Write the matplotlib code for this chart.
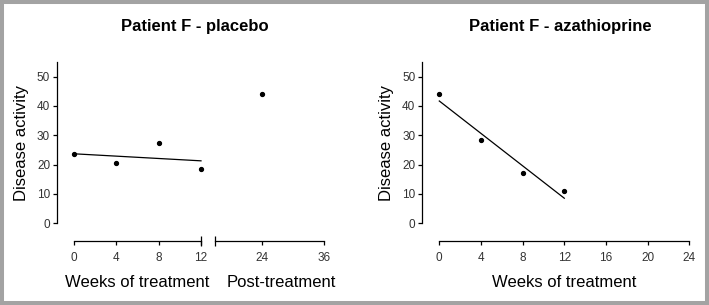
import matplotlib.pyplot as plt
import matplotlib.transforms as mtransforms
from matplotlib.patches import Rectangle
import numpy as np

# data
weeks = [0, 4, 8, 12]
placebo = [23.5, 20.5, 27.5, 18.5]
post_weeks = [24]
post_placebo = [44]
aza = [44, 28.5, 17, 11]

yticks = [0, 10, 20, 30, 40, 50]
left_xticks = [0, 4, 8, 12]
post_xticks = [24, 36]
aza_xticks = [0, 4, 8, 12, 16, 20, 24]

plt.rcParams['font.family'] = ['Liberation Sans', 'DejaVu Sans']

W, H = 709, 305
fig = plt.figure(figsize=(W / 100, H / 100), dpi=100)


def box(x0, x1, y_top=62.0, y_bot=223.3):
    # pixel box -> figure fraction
    return [x0 / W, 1 - y_bot / H, (x1 - x0) / W, (y_bot - y_top) / H]


def style(ax, show_y=True):
    ax.set_ylim(0, 55)
    ax.spines['top'].set_visible(False)
    ax.spines['right'].set_visible(False)
    ax.spines['bottom'].set_position(('outward', 12.5))
    ax.spines['left'].set_position(('outward', 12.2))
    for s in ax.spines.values():
        s.set_linewidth(0.9)
    ax.tick_params(length=3, width=0.9, labelsize=8.5, labelcolor='#333333')
    ax.tick_params(axis='x', pad=5)
    ax.tick_params(axis='y', pad=2)
    if show_y:
        ax.set_yticks(yticks)
        ax.set_ylabel('Disease activity', fontsize=12, labelpad=6)
    else:
        ax.spines['left'].set_visible(False)
        ax.set_yticks([])
    ax.patch.set_visible(False)


def break_tick(ax, x):
    trans = mtransforms.blended_transform_factory(ax.transData, ax.transAxes)
    trans = mtransforms.offset_copy(trans, fig=fig, y=-12.5, units='points')
    ax.plot([x], [0], marker='|', ms=7, mew=0.9, color='k', transform=trans, clip_on=False)


# left panel, treatment weeks
ax1 = fig.add_axes(box(74, 201))
style(ax1)
ax1.set_xlim(0, 12)
ax1.set_xticks(left_xticks)
ax1.plot(weeks, placebo, 'o', ms=2.8, color='k', clip_on=False)
m, b = np.polyfit(weeks, placebo, 1)
ax1.plot([weeks[0], weeks[-1]], [m * weeks[0] + b, m * weeks[-1] + b], color='k', lw=0.9, clip_on=False)
ax1.set_xlabel('Weeks of treatment', fontsize=12)
ax1.xaxis.set_label_coords(0.5, -0.32)
break_tick(ax1, 12)

# left panel, post-treatment segment
ax2 = fig.add_axes(box(214.7, 324.3))
style(ax2, show_y=False)
ax2.set_xlim(15, 36)
ax2.set_xticks(post_xticks)
ax2.plot(post_weeks, post_placebo, 'o', ms=2.8, color='k', clip_on=False)
ax2.set_xlabel('Post-treatment', fontsize=12)
ax2.xaxis.set_label_coords(0.605, -0.32)
break_tick(ax2, 15)

# right panel, azathioprine
ax3 = fig.add_axes(box(439.3, 689.3))
style(ax3)
ax3.set_xlim(0, 24)
ax3.set_xticks(aza_xticks)
ax3.plot(weeks, aza, 'o', ms=2.8, color='k', clip_on=False)
m, b = np.polyfit(weeks, aza, 1)
ax3.plot([weeks[0], weeks[-1]], [m * weeks[0] + b, m * weeks[-1] + b], color='k', lw=0.9, clip_on=False)
ax3.set_xlabel('Weeks of treatment', fontsize=12)
ax3.xaxis.set_label_coords(0.5, -0.32)

fig.text(195 / W, 1 - 27 / H, 'Patient F - placebo', fontsize=12, fontweight='bold',
         ha='center', va='center')
fig.text(560.5 / W, 1 - 27 / H, 'Patient F - azathioprine', fontsize=12, fontweight='bold',
         ha='center', va='center')

# grey frame round the whole picture
fig.patches.append(Rectangle((2 / W, 2 / H), 1 - 4 / W, 1 - 4 / H, transform=fig.transFigure,
                             fill=False, edgecolor='#a3a3a3', lw=2.9))

fig.savefig('out.png', dpi=100)
